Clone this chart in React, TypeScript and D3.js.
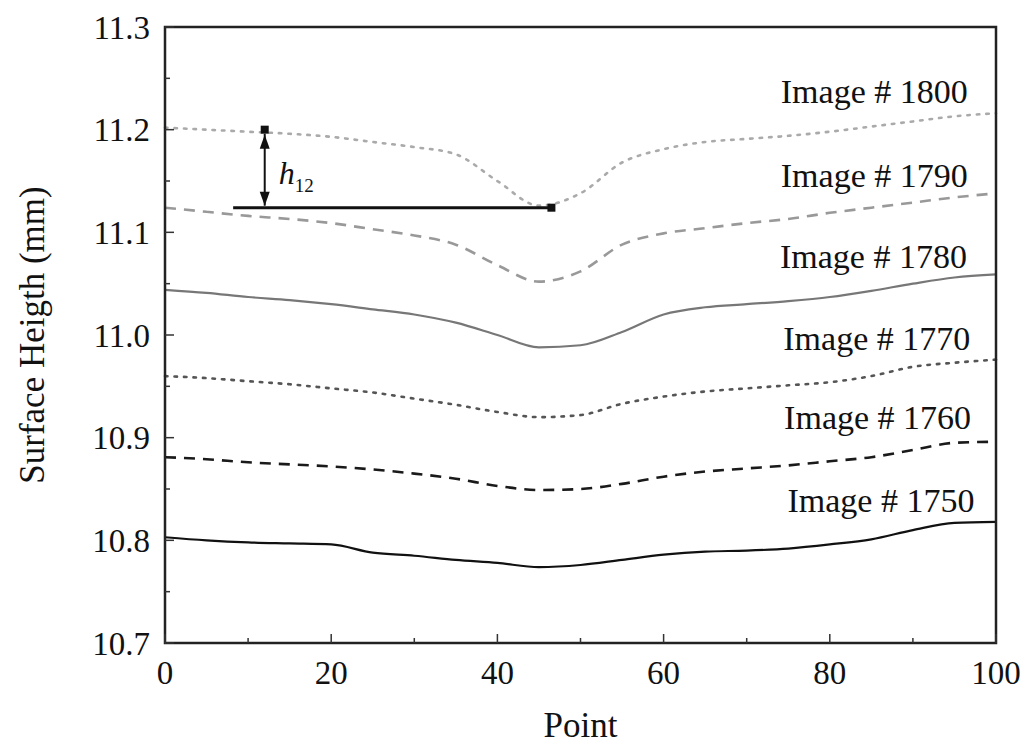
import React from 'react';
import * as d3 from 'd3';

// x positions (Point) shared by every profile
const points = [0, 5, 10, 15, 20, 25, 30, 35, 40, 45, 50, 55, 60, 65, 70, 75, 80, 85, 90, 95, 100];

const img1750 = [10.803, 10.800, 10.798, 10.797, 10.796, 10.788, 10.785, 10.781, 10.778, 10.774, 10.776, 10.781, 10.786, 10.789, 10.790, 10.792, 10.796, 10.801, 10.810, 10.817, 10.818];
const img1760 = [10.881, 10.879, 10.876, 10.874, 10.872, 10.869, 10.865, 10.860, 10.853, 10.849, 10.850, 10.855, 10.862, 10.867, 10.870, 10.873, 10.877, 10.881, 10.888, 10.895, 10.896];
const img1770 = [10.960, 10.958, 10.955, 10.952, 10.948, 10.944, 10.938, 10.932, 10.925, 10.920, 10.922, 10.933, 10.940, 10.945, 10.948, 10.951, 10.954, 10.960, 10.969, 10.973, 10.976];
const img1780 = [11.044, 11.041, 11.037, 11.034, 11.030, 11.025, 11.020, 11.012, 11.000, 10.988, 10.990, 11.003, 11.020, 11.027, 11.030, 11.033, 11.037, 11.043, 11.050, 11.056, 11.059];
const img1790 = [11.124, 11.120, 11.116, 11.113, 11.109, 11.103, 11.097, 11.088, 11.068, 11.052, 11.062, 11.088, 11.099, 11.104, 11.109, 11.113, 11.119, 11.124, 11.129, 11.134, 11.138];
const img1800 = [11.202, 11.200, 11.198, 11.196, 11.193, 11.188, 11.183, 11.176, 11.150, 11.126, 11.138, 11.168, 11.181, 11.188, 11.191, 11.194, 11.198, 11.203, 11.208, 11.213, 11.216];

const seriesNames = ['Image # 1750', 'Image # 1760', 'Image # 1770', 'Image # 1780', 'Image # 1790', 'Image # 1800'];
const seriesValues = [img1750, img1760, img1770, img1780, img1790, img1800];
// where each label sits (Point of right edge, height of baseline)
const labelAt = [[97.4, 10.828], [97.0, 10.908], [96.9, 10.985], [96.5, 11.065], [96.6, 11.144], [96.6, 11.226]];

const xTicks = [0, 20, 40, 60, 80, 100];
const xMinor = [10, 30, 50, 70, 90];
const yTicks = [10.7, 10.8, 10.9, 11.0, 11.1, 11.2, 11.3];
const yMinor = [10.75, 10.85, 10.95, 11.05, 11.15, 11.25];

// h12 annotation
const hArrowX = 12;
const hTop = 11.2;
const hBottom = 11.124;
const hLineFrom = 8.2;
const hLineTo = 46.5;

const styles = [
  { stroke: '#111', width: 2.2, dash: undefined, cap: 'butt' },
  { stroke: '#1a1a1a', width: 2.6, dash: '11,8', cap: 'butt' },
  { stroke: '#555', width: 2.6, dash: '2.5,7', cap: 'round' },
  { stroke: '#777', width: 2.2, dash: undefined, cap: 'butt' },
  { stroke: '#999', width: 2.6, dash: '11,8', cap: 'butt' },
  { stroke: '#aaa', width: 2.6, dash: '2.5,7', cap: 'round' },
];

const FONT = "'Liberation Serif', 'Times New Roman', serif";

const x = d3.scaleLinear().domain([0, 100]).range([165, 996]);
const y = d3.scaleLinear().domain([10.7, 11.3]).range([643, 27]);

const line = d3.line<number>()
  .x((d, i) => x(points[i]))
  .y((d) => y(d))
  .curve(d3.curveMonotoneX);

const txt = { fontFamily: FONT, fill: '#111' } as React.CSSProperties;

const App = () => {
  const ax = x(hArrowX);
  const yt = y(hTop);
  const yb = y(hBottom);
  const head = (tipY: number, dir: number) =>
    `M${ax},${tipY} L${ax - 5},${tipY + dir * 14} L${ax + 5},${tipY + dir * 14} Z`;

  return (
    <svg width={1030} height={755} style={{ position: 'absolute', left: 0, top: 0, display: 'block' }}>
      <rect width={1030} height={755} fill="#fff" />

      {seriesValues.map((vals, i) => (
        <path key={seriesNames[i]} d={line(vals) || ''} fill="none"
          stroke={styles[i].stroke} strokeWidth={styles[i].width}
          strokeDasharray={styles[i].dash} strokeLinecap={styles[i].cap as any} />
      ))}

      {seriesNames.map((name, i) => (
        <text key={name} x={x(labelAt[i][0])} y={y(labelAt[i][1])} textAnchor="end"
          style={{ ...txt, fontSize: 34 }}>{name}</text>
      ))}

      {/* h12 annotation */}
      <line x1={x(hLineFrom)} x2={x(hLineTo)} y1={yb} y2={yb} stroke="#111" strokeWidth={3} />
      <line x1={ax} x2={ax} y1={yt + 4} y2={yb - 2} stroke="#111" strokeWidth={2} />
      <path d={head(yt + 5, 1)} fill="#111" />
      <path d={head(yb - 2, -1)} fill="#111" />
      <rect x={ax - 4} y={yt - 4} width={8} height={8} fill="#111" />
      <rect x={x(hLineTo) - 4} y={yb - 4} width={8} height={8} fill="#111" />
      <text x={ax + 14} y={yb - 24} style={{ ...txt, fontSize: 32 }}>
        <tspan style={{ fontStyle: 'italic' }}>h</tspan>
        <tspan dy={8} style={{ fontSize: 19 }}>12</tspan>
      </text>

      {/* frame */}
      <rect x={165} y={27} width={996 - 165} height={643 - 27} fill="none" stroke="#222" strokeWidth={2.5} />

      {/* x ticks, inside */}
      {xTicks.map((t) => (
        <g key={'x' + t}>
          <line x1={x(t)} x2={x(t)} y1={643} y2={634} stroke="#333" strokeWidth={1.5} />
          <text x={x(t)} y={684} textAnchor="middle" style={{ ...txt, fontSize: 33 }}>{t}</text>
        </g>
      ))}
      {xMinor.map((t) => (
        <line key={'xm' + t} x1={x(t)} x2={x(t)} y1={643} y2={638} stroke="#333" strokeWidth={1.5} />
      ))}

      {/* y ticks, inside */}
      {yTicks.map((t) => (
        <g key={'y' + t}>
          <line x1={165} x2={174} y1={y(t)} y2={y(t)} stroke="#333" strokeWidth={1.5} />
          <text x={150} y={y(t)} dy="0.35em" textAnchor="end" style={{ ...txt, fontSize: 33 }}>{d3.format('.1f')(t)}</text>
        </g>
      ))}
      {yMinor.map((t) => (
        <line key={'ym' + t} x1={165} x2={170} y1={y(t)} y2={y(t)} stroke="#333" strokeWidth={1.5} />
      ))}

      {/* axis titles */}
      <text x={x(50)} y={737} textAnchor="middle" style={{ ...txt, fontSize: 35 }}>Point</text>
      <text transform={`translate(44,${y(11.0)}) rotate(-90)`} textAnchor="middle"
        style={{ ...txt, fontSize: 35 }}>Surface Heigth (mm)</text>
    </svg>
  );
};

export default App;
